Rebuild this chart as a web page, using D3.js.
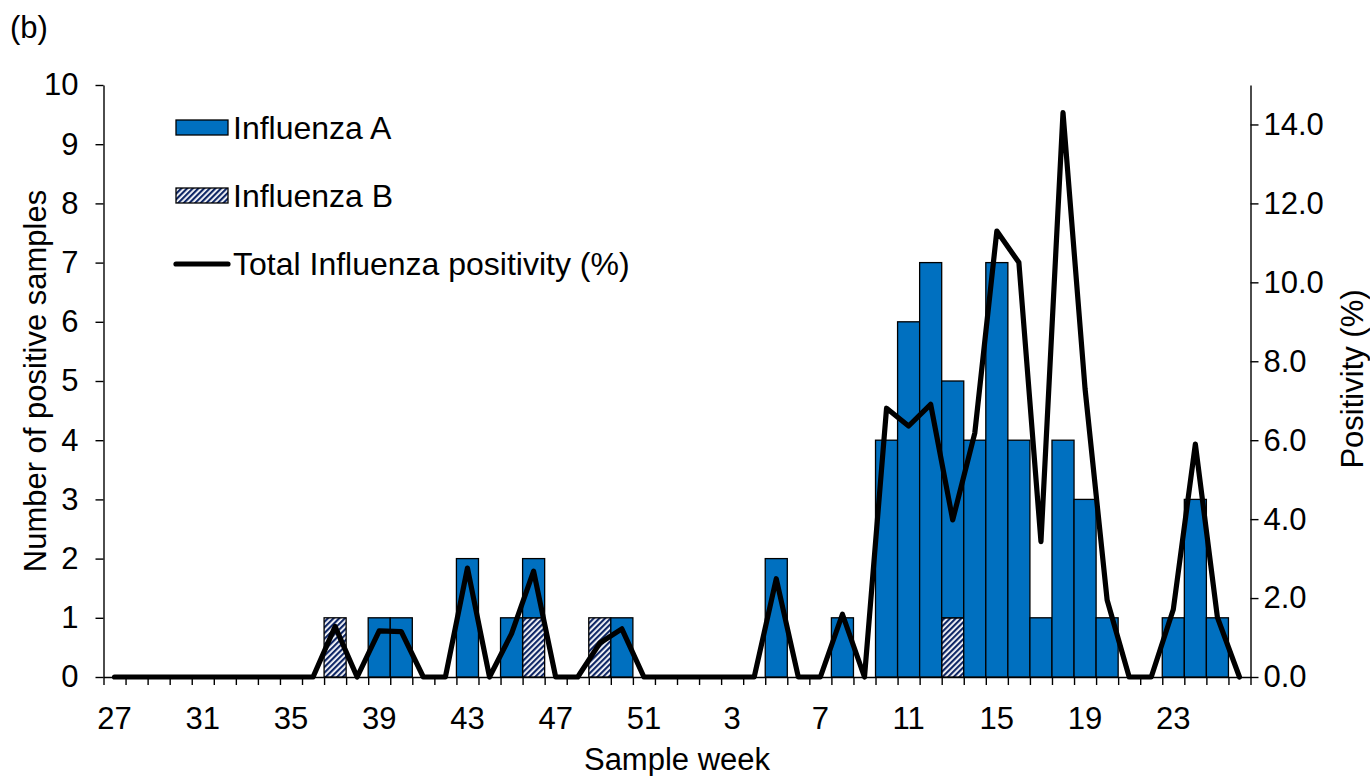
<!DOCTYPE html>
<html><head><meta charset="utf-8">
<script src="https://cdn.jsdelivr.net/npm/d3@7/dist/d3.min.js"></script>
<style>
body{margin:0;background:#fff}
text{font-family:"Liberation Sans",Arial,sans-serif;fill:#000}
</style>
</head><body>
<svg id="chart" width="1370" height="776"></svg>
<script>
// ---- data ----
const weeks = [27,28,29,30,31,32,33,34,35,36,37,38,39,40,41,42,43,44,45,46,47,48,49,50,51,52,
               1,2,3,4,5,6,7,8,9,10,11,12,13,14,15,16,17,18,19,20,21,22,23,24,25,26];
const influenzaA = [0,0,0,0,0,0,0,0,0,0,0,0,1,1,0,0,2,0,1,1,0,0,0,1,0,0,
                    0,0,0,0,2,0,0,1,0,4,6,7,4,4,7,4,1,4,3,1,0,0,1,3,1,0];
const influenzaB = [0,0,0,0,0,0,0,0,0,0,1,0,0,0,0,0,0,0,0,1,0,0,1,0,0,0,
                    0,0,0,0,0,0,0,0,0,0,0,0,1,0,0,0,0,0,0,0,0,0,0,0,0,0];
const positivity = [0,0,0,0,0,0,0,0,0,0,1.28,0,1.17,1.15,0,0,2.76,0,1.1,2.68,0,0,0.86,1.22,0,0,
                    0,0,0,0,2.49,0,0,1.59,0,6.81,6.36,6.91,3.98,6.18,11.3,10.5,3.43,14.3,7.3,1.95,0,0,1.71,5.9,1.51,0];
const xTickLabels = [27,31,35,39,43,47,51,3,7,11,15,19,23];
const leftTicks = [0,1,2,3,4,5,6,7,8,9,10];
const rightTicks = [0,2,4,6,8,10,12,14];
const seriesNames = ["Influenza A","Influenza B","Total Influenza positivity (%)"];

// ---- layout ----
const svg = d3.select("#chart");
const FS = 31, LFS = 32;
const plot = {left:103.5, right:1250.5, top:85, bottom:677};
const colA = "#0070C0", colB = "#0f2766";

const x = d3.scaleBand().domain(weeks.map(String)).range([plot.left, plot.right]).padding(0);
const xIdx = d3.scaleLinear().domain([0, weeks.length]).range([plot.left, plot.right]);
const yL = d3.scaleLinear().domain([0,10]).range([plot.bottom, plot.top]);
const yR = d3.scaleLinear().domain([0,15]).range([plot.bottom, plot.top]);

const defs = svg.append("defs");
const pat = defs.append("pattern").attr("id","hatch").attr("patternUnits","userSpaceOnUse")
  .attr("width",4).attr("height",4).attr("patternTransform","rotate(45)");
pat.append("rect").attr("width",4).attr("height",4).attr("fill","#fff");
pat.append("rect").attr("width",2.2).attr("height",4).attr("fill",colB);

// axes
const gx = svg.append("g").attr("transform",`translate(0,${plot.bottom})`)
  .call(d3.axisBottom(xIdx).tickValues(d3.range(weeks.length+1)).tickFormat("").tickSize(8).tickSizeOuter(0));
const gxl = svg.append("g").attr("transform",`translate(0,${plot.bottom})`)
  .call(d3.axisBottom(x).tickValues(xTickLabels.map(String)).tickSize(0).tickPadding(30));
gxl.select(".domain").remove();

const gl = svg.append("g").attr("transform",`translate(${plot.left},0)`)
  .call(d3.axisLeft(yL).tickValues(leftTicks).tickSize(8).tickSizeOuter(0).tickPadding(17));
const gr = svg.append("g").attr("transform",`translate(${plot.right},0)`)
  .call(d3.axisRight(yR).tickValues(rightTicks).tickFormat(d3.format(".1f")).tickSize(8).tickSizeOuter(0).tickPadding(5));

[gx,gxl,gl,gr].forEach(g=>{
  g.selectAll("text").style("font-size",FS+"px").attr("fill","#000").style("font-family",'"Liberation Sans",Arial,sans-serif');
  g.selectAll("line,path").attr("stroke","#000").attr("stroke-width",1.4);
});
gxl.selectAll("text").attr("dy","0.71em");

// bars (stacked: B at bottom, A on top)
const table = weeks.map((w,i)=>({week:String(w), B:influenzaB[i], A:influenzaA[i]}));
const stack = d3.stack().keys(["B","A"])(table);
const fills = {B:"url(#hatch)", A:colA};
stack.forEach(layer=>{
  svg.append("g").selectAll("rect").data(layer.filter(d=>d[1]-d[0]>0)).join("rect")
    .attr("x",d=>x(d.data.week))
    .attr("width",x.bandwidth())
    .attr("y",d=>yL(d[1]))
    .attr("height",d=>yL(d[0])-yL(d[1]))
    .attr("fill",fills[layer.key])
    .attr("stroke","#000").attr("stroke-width",1.3);
});

// line
const line = d3.line().x((d,i)=>x(String(weeks[i]))+x.bandwidth()/2).y(d=>yR(d));
svg.append("path").datum(positivity).attr("d",line)
  .attr("fill","none").attr("stroke","#000").attr("stroke-width",5.2)
  .attr("stroke-linejoin","round").attr("stroke-linecap","round");

// legend
const leg = svg.append("g").attr("transform","translate(176,0)");
const legY = [127.5,195.5,264];
leg.append("rect").attr("x",0).attr("y",legY[0]-7.5).attr("width",52).attr("height",15)
  .attr("fill",colA).attr("stroke","#000").attr("stroke-width",1.3);
leg.append("rect").attr("x",0).attr("y",legY[1]-7.5).attr("width",52).attr("height",15)
  .attr("fill","url(#hatch)").attr("stroke","#000").attr("stroke-width",1.3);
leg.append("line").attr("x1",0).attr("x2",52).attr("y1",legY[2]).attr("y2",legY[2])
  .attr("stroke","#000").attr("stroke-width",5.2).attr("stroke-linecap","round");
seriesNames.forEach((n,i)=>{
  leg.append("text").attr("x",57).attr("y",legY[i]).attr("dy","0.35em").style("font-size",LFS+"px").text(n);
});

// titles
svg.append("text").attr("x",10).attr("y",38).style("font-size",FS+"px").text("(b)");
svg.append("text").attr("x",(plot.left+plot.right)/2).attr("y",770).attr("text-anchor","middle")
  .style("font-size",FS+"px").text("Sample week");
svg.append("text").attr("transform",`translate(46,${(plot.top+plot.bottom)/2}) rotate(-90)`)
  .attr("text-anchor","middle").style("font-size",FS+"px").text("Number of positive samples");
svg.append("text").attr("transform",`translate(1363,${(plot.top+plot.bottom)/2 - 2}) rotate(-90)`)
  .attr("text-anchor","middle").style("font-size",FS+"px").text("Positivity (%)");
</script>
</body></html>
